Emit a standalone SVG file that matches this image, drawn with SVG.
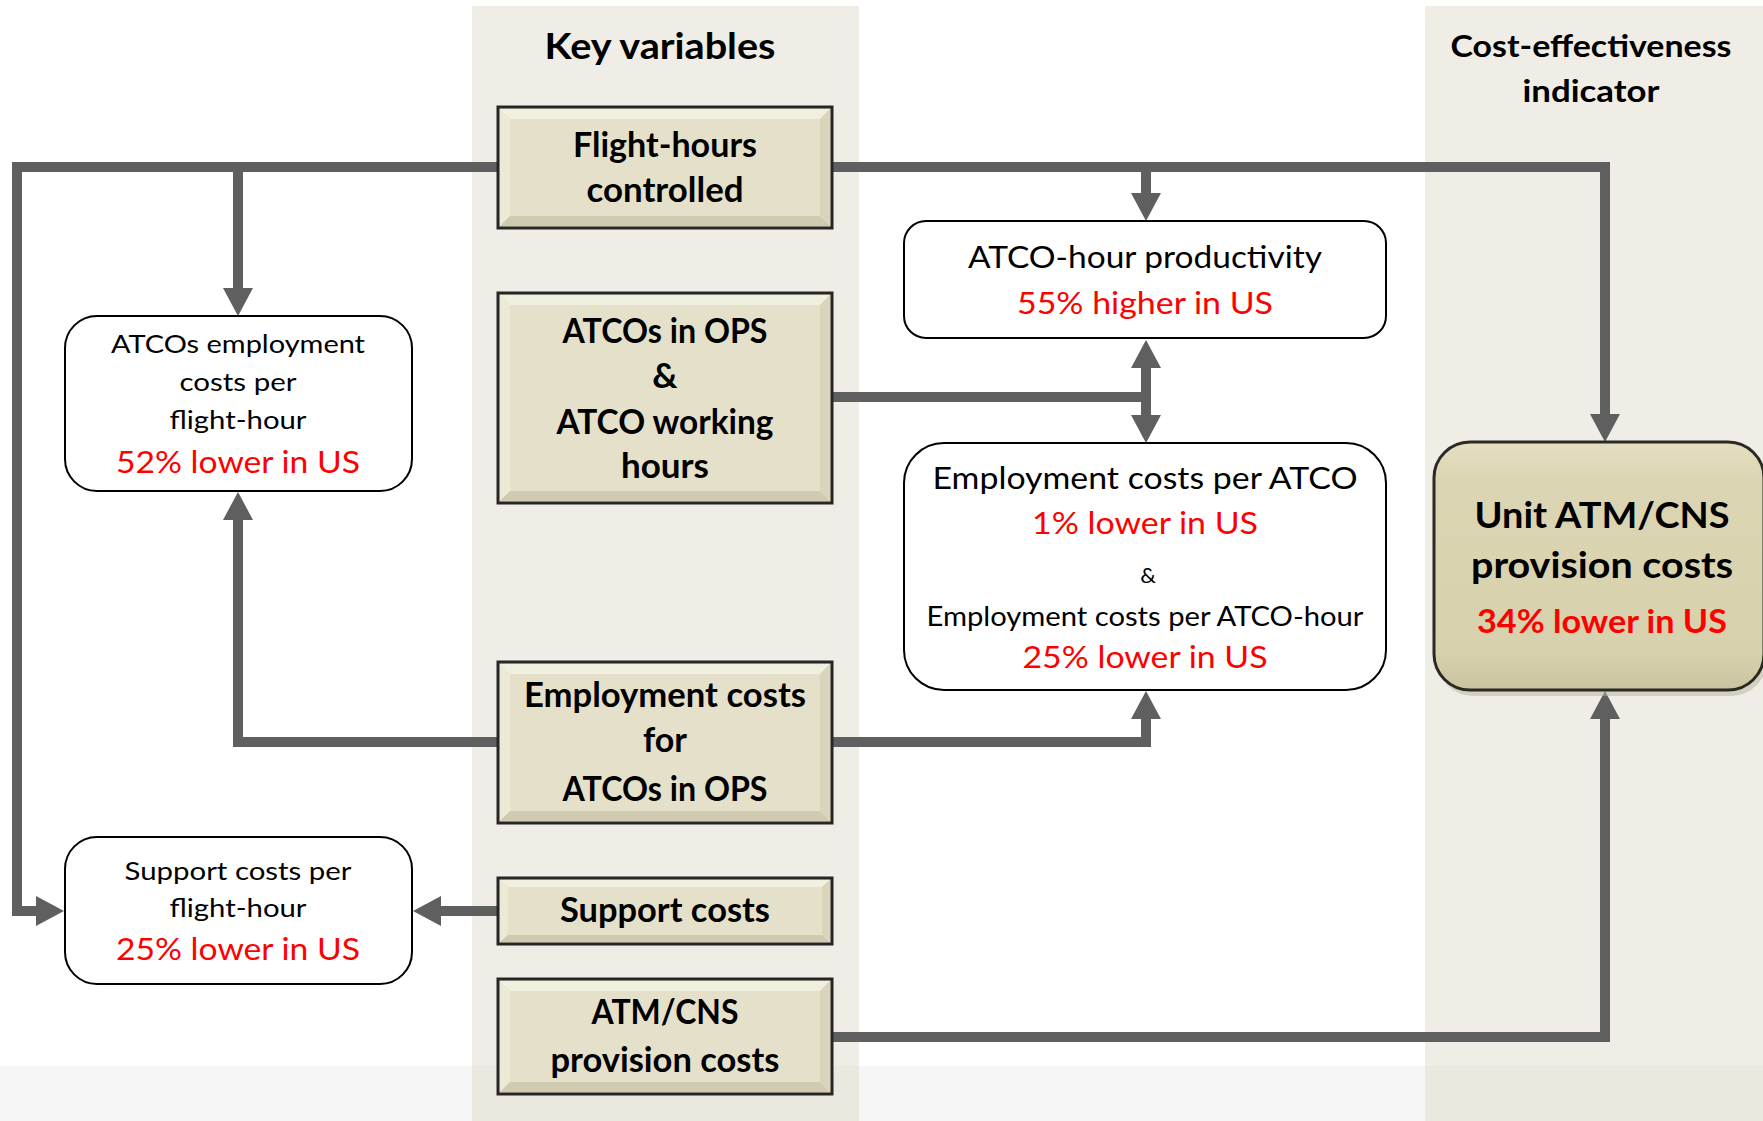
<svg xmlns="http://www.w3.org/2000/svg" width="1763" height="1121" viewBox="0 0 1763 1121">
<defs>
<style>
.kv{fill:#e5e0c9;stroke:#262626;stroke-width:3}
.bt{fill:#f1efdf}
.bl{fill:#ece9d6}
.bb{fill:#cfcab0}
.br{fill:#d9d4bb}
.wn{fill:#fff;stroke:#000;stroke-width:2}
.t{font-family:Lato,"Liberation Sans",sans-serif;text-anchor:middle;fill:#000}
.b{font-weight:bold}
.red{fill:#ff0000}
.c{fill:none;stroke:#5f5f5f;stroke-width:10;stroke-linejoin:miter}
</style>
<marker id="ah" markerUnits="userSpaceOnUse" viewBox="0 0 28 30" markerWidth="28" markerHeight="30" refX="1" refY="15" orient="auto">
<path d="M0,0 L28,15 L0,30 z" fill="#5f5f5f"/>
</marker>
<linearGradient id="ug" x1="0" y1="0" x2="0" y2="1">
<stop offset="0" stop-color="#e4dfc0"/>
<stop offset="0.15" stop-color="#dbd5b3"/>
<stop offset="0.85" stop-color="#d7d1ad"/>
<stop offset="1" stop-color="#c9c39f"/>
</linearGradient>
</defs>
<g id="background">
<rect x="0" y="0" width="1763" height="1121" fill="#ffffff"/>
<rect x="0" y="1066" width="1763" height="55" fill="#f6f6f6"/>
<rect x="472" y="6" width="387" height="1115" fill="#efede5"/>
<rect x="1425" y="6" width="338" height="1115" fill="#efede5"/>
<rect x="472" y="1066" width="387" height="55" fill="#ebe8e0"/>
<rect x="1425" y="1066" width="338" height="55" fill="#ebe8e0"/>
</g>
<g id="titles">
<text class="t b" x="660" y="59" font-size="36" textLength="231" lengthAdjust="spacingAndGlyphs">Key variables</text>
<text class="t b" x="1591" y="57" font-size="31" textLength="281" lengthAdjust="spacingAndGlyphs">Cost-effectiveness</text>
<text class="t b" x="1591" y="102" font-size="31" textLength="137" lengthAdjust="spacingAndGlyphs">indicator</text>
</g>
<g id="connectors">
<path class="c" d="M498,167 H17 V911 H37" marker-end="url(#ah)"/>
<path class="c" d="M238,167 V289" marker-end="url(#ah)"/>
<path class="c" d="M832,167 H1605 V415" marker-end="url(#ah)"/>
<path class="c" d="M1146,167 V194" marker-end="url(#ah)"/>
<path class="c" d="M832,397 H1151"/>
<path class="c" d="M1146,397 V367" marker-end="url(#ah)"/>
<path class="c" d="M1146,397 V416" marker-end="url(#ah)"/>
<path class="c" d="M498,742 H238 V519" marker-end="url(#ah)"/>
<path class="c" d="M832,742 H1146 V718" marker-end="url(#ah)"/>
<path class="c" d="M498,911 H440" marker-end="url(#ah)"/>
<path class="c" d="M832,1037 H1605 V718" marker-end="url(#ah)"/>
</g>
<g id="flight-hours">
<rect class="kv" x="498" y="107" width="334" height="121"/>
<polygon class="bt" points="500,109 830,109 820,119 510,119"/>
<polygon class="bl" points="500,109 510,119 510,216 500,226"/>
<polygon class="bb" points="500,226 510,216 820,216 830,226"/>
<polygon class="br" points="830,109 830,226 820,216 820,119"/>
<text class="t b" x="665" y="157" font-size="35" textLength="184" lengthAdjust="spacingAndGlyphs">Flight-hours</text>
<text class="t b" x="665" y="202" font-size="35" textLength="157" lengthAdjust="spacingAndGlyphs">controlled</text>
</g>
<g id="atcos-ops">
<rect class="kv" x="498" y="293" width="334" height="210"/>
<polygon class="bt" points="500,295 830,295 820,305 510,305"/>
<polygon class="bl" points="500,295 510,305 510,491 500,501"/>
<polygon class="bb" points="500,501 510,491 820,491 830,501"/>
<polygon class="br" points="830,295 830,501 820,491 820,305"/>
<text class="t b" x="665" y="343" font-size="35" textLength="205" lengthAdjust="spacingAndGlyphs">ATCOs in OPS</text>
<text class="t b" x="665" y="388" font-size="35">&amp;</text>
<text class="t b" x="665" y="434" font-size="35" textLength="217" lengthAdjust="spacingAndGlyphs">ATCO working</text>
<text class="t b" x="665" y="478" font-size="35" textLength="88" lengthAdjust="spacingAndGlyphs">hours</text>
</g>
<g id="employment-costs">
<rect class="kv" x="498" y="662" width="334" height="161"/>
<polygon class="bt" points="500,664 830,664 820,674 510,674"/>
<polygon class="bl" points="500,664 510,674 510,811 500,821"/>
<polygon class="bb" points="500,821 510,811 820,811 830,821"/>
<polygon class="br" points="830,664 830,821 820,811 820,674"/>
<text class="t b" x="665" y="707" font-size="35" textLength="282" lengthAdjust="spacingAndGlyphs">Employment costs</text>
<text class="t b" x="665" y="752" font-size="35" textLength="44" lengthAdjust="spacingAndGlyphs">for</text>
<text class="t b" x="665" y="801" font-size="35" textLength="205" lengthAdjust="spacingAndGlyphs">ATCOs in OPS</text>
</g>
<g id="support-costs">
<rect class="kv" x="498" y="878" width="334" height="66"/>
<polygon class="bt" points="500,880 830,880 822,887 508,887"/>
<polygon class="bl" points="500,880 508,887 508,935 500,942"/>
<polygon class="bb" points="500,942 508,935 822,935 830,942"/>
<polygon class="br" points="830,880 830,942 822,935 822,887"/>
<text class="t b" x="665" y="922" font-size="35" textLength="210" lengthAdjust="spacingAndGlyphs">Support costs</text>
</g>
<g id="atm-cns-costs">
<rect class="kv" x="498" y="979" width="334" height="115"/>
<polygon class="bt" points="500,981 830,981 820,991 510,991"/>
<polygon class="bl" points="500,981 510,991 510,1082 500,1092"/>
<polygon class="bb" points="500,1092 510,1082 820,1082 830,1092"/>
<polygon class="br" points="830,981 830,1092 820,1082 820,991"/>
<text class="t b" x="665" y="1024" font-size="35" textLength="147" lengthAdjust="spacingAndGlyphs">ATM/CNS</text>
<text class="t b" x="665" y="1072" font-size="35" textLength="229" lengthAdjust="spacingAndGlyphs">provision costs</text>
</g>
<g id="atcos-employment-per-fh">
<rect class="wn" x="65" y="316" width="347" height="175" rx="32" ry="32"/>
<text class="t" x="238" y="353" font-size="25" textLength="254" lengthAdjust="spacingAndGlyphs">ATCOs employment</text>
<text class="t" x="238" y="391" font-size="25" textLength="117" lengthAdjust="spacingAndGlyphs">costs per</text>
<text class="t" x="238" y="429" font-size="25" textLength="137" lengthAdjust="spacingAndGlyphs">flight-hour</text>
<text class="t red" x="238" y="473" font-size="30" textLength="244" lengthAdjust="spacingAndGlyphs">52% lower in US</text>
</g>
<g id="support-per-fh">
<rect class="wn" x="65" y="837" width="347" height="147" rx="32" ry="32"/>
<text class="t" x="238" y="880" font-size="25" textLength="227" lengthAdjust="spacingAndGlyphs">Support costs per</text>
<text class="t" x="238" y="917" font-size="25" textLength="137" lengthAdjust="spacingAndGlyphs">flight-hour</text>
<text class="t red" x="238" y="960" font-size="30" textLength="244" lengthAdjust="spacingAndGlyphs">25% lower in US</text>
</g>
<g id="atco-hour-productivity">
<rect class="wn" x="904" y="221" width="482" height="117" rx="22" ry="22"/>
<text class="t" x="1145" y="268" font-size="30" textLength="354" lengthAdjust="spacingAndGlyphs">ATCO-hour productivity</text>
<text class="t red" x="1145" y="314" font-size="30" textLength="256" lengthAdjust="spacingAndGlyphs">55% higher in US</text>
</g>
<g id="employment-per-atco">
<rect class="wn" x="904" y="443" width="482" height="247" rx="40" ry="40"/>
<text class="t" x="1145" y="489" font-size="30" textLength="425" lengthAdjust="spacingAndGlyphs">Employment costs per ATCO</text>
<text class="t red" x="1145" y="534" font-size="30" textLength="226" lengthAdjust="spacingAndGlyphs">1% lower in US</text>
<text class="t" x="1148" y="583" font-size="22">&amp;</text>
<text class="t" x="1145" y="626" font-size="27" textLength="437" lengthAdjust="spacingAndGlyphs">Employment costs per ATCO-hour</text>
<text class="t red" x="1145" y="668" font-size="30" textLength="245" lengthAdjust="spacingAndGlyphs">25% lower in US</text>
</g>
<g id="unit-atm-cns">
<rect x="1437" y="446" width="330" height="250" rx="36" ry="36" fill="#b8b39a" opacity="0.5"/>
<rect x="1434" y="442" width="330" height="248" rx="36" ry="36" fill="url(#ug)" stroke="#2a2a24" stroke-width="3"/>
<text class="t b" x="1602" y="528" font-size="37" textLength="255" lengthAdjust="spacingAndGlyphs">Unit ATM/CNS</text>
<text class="t b" x="1602" y="578" font-size="37" textLength="262" lengthAdjust="spacingAndGlyphs">provision costs</text>
<text class="t b red" x="1602" y="633" font-size="32" textLength="250" lengthAdjust="spacingAndGlyphs">34% lower in US</text>
</g>
</svg>
